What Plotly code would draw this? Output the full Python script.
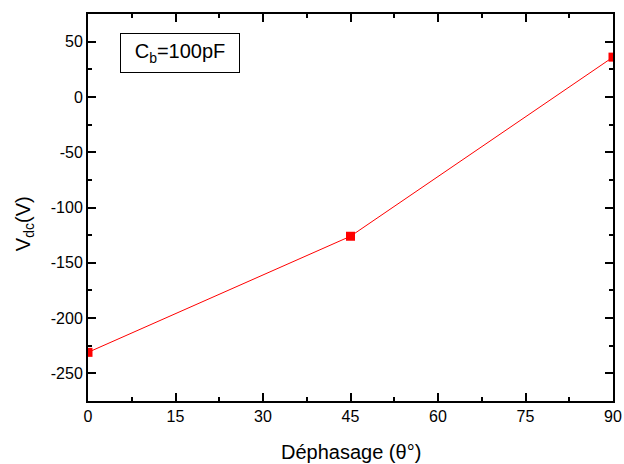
import plotly.graph_objects as go

phase = [0, 45, 90]
vdc = [-231, -126, 36]
x_ticks = [0, 15, 30, 45, 60, 75, 90]
y_ticks = [-250, -200, -150, -100, -50, 0, 50]
y_ticktext = [str(v) for v in y_ticks]  # ASCII hyphen like the original

FONT = "Liberation Sans, Arial"

fig = go.Figure()
fig.add_trace(go.Scatter(
    x=phase, y=vdc, mode="lines+markers",
    line=dict(color="#ff0000", width=1),
    marker=dict(symbol="square", size=9, color="#ff0000"),
    showlegend=False,
))

axis_common = dict(
    showline=True, linecolor="black", linewidth=2, mirror="ticks",
    ticks="inside", ticklen=8, tickwidth=1.5, tickcolor="black",
    showgrid=False, zeroline=False, automargin=False,
    tickfont=dict(family=FONT, size=16, color="black"),
)

fig.update_xaxes(
    range=[0, 90], tickvals=x_ticks, ticktext=[str(v) for v in x_ticks],
    minor=dict(ticks="inside", ticklen=4, dtick=7.5, tick0=0, tickcolor="black", tickwidth=1.5),
    **axis_common,
)
fig.update_yaxes(
    range=[-275, 75], tickvals=y_ticks, ticktext=y_ticktext,
    minor=dict(ticks="inside", ticklen=4, dtick=25, tick0=0, tickcolor="black", tickwidth=1.5),
    **axis_common,
)

# axis titles
fig.add_annotation(
    x=0.5, y=0, xref="paper", yref="paper", xanchor="center", yanchor="middle",
    yshift=-51, text="Déphasage (θ°)", showarrow=False,
    font=dict(family=FONT, size=20, color="black"),
)
fig.add_annotation(
    x=0, y=0.457, xref="paper", yref="paper", xanchor="center", yanchor="middle",
    xshift=-64, text="V<sub>dc</sub>(V)", showarrow=False, textangle=-90,
    font=dict(family=FONT, size=20, color="black"),
)

fig.add_annotation(
    x=0.061, y=0.951, xref="paper", yref="paper", xanchor="left", yanchor="top",
    text="C<sub>b</sub>=100pF", showarrow=False,
    font=dict(family=FONT, size=20, color="black"),
    bordercolor="black", borderwidth=1, borderpad=2, bgcolor="white",
    width=114, height=34,
)

fig.update_layout(
    width=624, height=464,
    margin=dict(l=88, r=11, t=14, b=63, autoexpand=False),
    plot_bgcolor="white", paper_bgcolor="white",
)

fig.write_html("out.html")
